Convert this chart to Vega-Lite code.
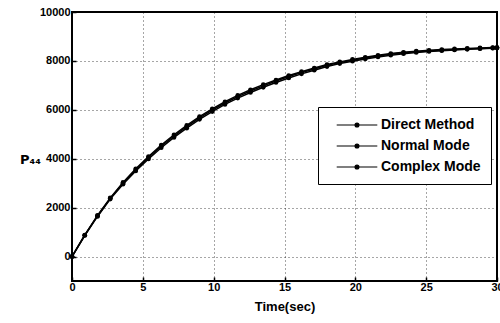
{
  "$schema": "https://vega.github.io/schema/vega-lite/v6.json",
  "autosize": {"type": "none"},
  "padding": {"left": 72, "top": 12, "right": 3, "bottom": 42},
  "width": 425,
  "height": 269,
  "background": "white",
  "config": {
    "view": {"stroke": "black", "strokeWidth": 2},
    "font": "Liberation Sans"
  },
  "datasets": {
    "curves": [
      {"t": 0, "v": 0, "s": "Direct Method"}, {"t": 0.9, "v": 870, "s": "Direct Method"}, {"t": 1.8, "v": 1660, "s": "Direct Method"}, {"t": 2.7, "v": 2380, "s": "Direct Method"}, {"t": 3.6, "v": 3000, "s": "Direct Method"}, {"t": 4.5, "v": 3550, "s": "Direct Method"}, {"t": 5.4, "v": 4050, "s": "Direct Method"}, {"t": 6.3, "v": 4510, "s": "Direct Method"}, {"t": 7.2, "v": 4930, "s": "Direct Method"}, {"t": 8.1, "v": 5310, "s": "Direct Method"}, {"t": 9.0, "v": 5670, "s": "Direct Method"}, {"t": 9.9, "v": 5990, "s": "Direct Method"}, {"t": 10.8, "v": 6280, "s": "Direct Method"}, {"t": 11.7, "v": 6540, "s": "Direct Method"}, {"t": 12.6, "v": 6770, "s": "Direct Method"}, {"t": 13.5, "v": 6980, "s": "Direct Method"}, {"t": 14.4, "v": 7180, "s": "Direct Method"}, {"t": 15.3, "v": 7360, "s": "Direct Method"}, {"t": 16.2, "v": 7520, "s": "Direct Method"}, {"t": 17.1, "v": 7670, "s": "Direct Method"}, {"t": 18.0, "v": 7820, "s": "Direct Method"}, {"t": 18.9, "v": 7930, "s": "Direct Method"}, {"t": 19.8, "v": 8030, "s": "Direct Method"}, {"t": 20.7, "v": 8120, "s": "Direct Method"}, {"t": 21.6, "v": 8200, "s": "Direct Method"}, {"t": 22.5, "v": 8270, "s": "Direct Method"}, {"t": 23.4, "v": 8330, "s": "Direct Method"}, {"t": 24.3, "v": 8375, "s": "Direct Method"}, {"t": 25.2, "v": 8410, "s": "Direct Method"}, {"t": 26.1, "v": 8440, "s": "Direct Method"}, {"t": 27.0, "v": 8465, "s": "Direct Method"}, {"t": 27.9, "v": 8490, "s": "Direct Method"}, {"t": 28.8, "v": 8510, "s": "Direct Method"}, {"t": 29.7, "v": 8530, "s": "Direct Method"}, {"t": 30, "v": 8535, "s": "Direct Method"},
      {"t": 0, "v": 0, "s": "Normal Mode"}, {"t": 0.9, "v": 880, "s": "Normal Mode"}, {"t": 1.8, "v": 1680, "s": "Normal Mode"}, {"t": 2.7, "v": 2400, "s": "Normal Mode"}, {"t": 3.6, "v": 3030, "s": "Normal Mode"}, {"t": 4.5, "v": 3590, "s": "Normal Mode"}, {"t": 5.4, "v": 4090, "s": "Normal Mode"}, {"t": 6.3, "v": 4560, "s": "Normal Mode"}, {"t": 7.2, "v": 4980, "s": "Normal Mode"}, {"t": 8.1, "v": 5360, "s": "Normal Mode"}, {"t": 9.0, "v": 5720, "s": "Normal Mode"}, {"t": 9.9, "v": 6040, "s": "Normal Mode"}, {"t": 10.8, "v": 6330, "s": "Normal Mode"}, {"t": 11.7, "v": 6590, "s": "Normal Mode"}, {"t": 12.6, "v": 6820, "s": "Normal Mode"}, {"t": 13.5, "v": 7030, "s": "Normal Mode"}, {"t": 14.4, "v": 7220, "s": "Normal Mode"}, {"t": 15.3, "v": 7400, "s": "Normal Mode"}, {"t": 16.2, "v": 7560, "s": "Normal Mode"}, {"t": 17.1, "v": 7710, "s": "Normal Mode"}, {"t": 18.0, "v": 7850, "s": "Normal Mode"}, {"t": 18.9, "v": 7960, "s": "Normal Mode"}, {"t": 19.8, "v": 8060, "s": "Normal Mode"}, {"t": 20.7, "v": 8150, "s": "Normal Mode"}, {"t": 21.6, "v": 8230, "s": "Normal Mode"}, {"t": 22.5, "v": 8300, "s": "Normal Mode"}, {"t": 23.4, "v": 8355, "s": "Normal Mode"}, {"t": 24.3, "v": 8400, "s": "Normal Mode"}, {"t": 25.2, "v": 8435, "s": "Normal Mode"}, {"t": 26.1, "v": 8465, "s": "Normal Mode"}, {"t": 27.0, "v": 8490, "s": "Normal Mode"}, {"t": 27.9, "v": 8510, "s": "Normal Mode"}, {"t": 28.8, "v": 8530, "s": "Normal Mode"}, {"t": 29.7, "v": 8545, "s": "Normal Mode"}, {"t": 30, "v": 8550, "s": "Normal Mode"},
      {"t": 0, "v": 0, "s": "Complex Mode"}, {"t": 0.9, "v": 860, "s": "Complex Mode"}, {"t": 1.8, "v": 1640, "s": "Complex Mode"}, {"t": 2.7, "v": 2350, "s": "Complex Mode"}, {"t": 3.6, "v": 2960, "s": "Complex Mode"}, {"t": 4.5, "v": 3500, "s": "Complex Mode"}, {"t": 5.4, "v": 3990, "s": "Complex Mode"}, {"t": 6.3, "v": 4450, "s": "Complex Mode"}, {"t": 7.2, "v": 4870, "s": "Complex Mode"}, {"t": 8.1, "v": 5250, "s": "Complex Mode"}, {"t": 9.0, "v": 5610, "s": "Complex Mode"}, {"t": 9.9, "v": 5930, "s": "Complex Mode"}, {"t": 10.8, "v": 6220, "s": "Complex Mode"}, {"t": 11.7, "v": 6480, "s": "Complex Mode"}, {"t": 12.6, "v": 6710, "s": "Complex Mode"}, {"t": 13.5, "v": 6920, "s": "Complex Mode"}, {"t": 14.4, "v": 7120, "s": "Complex Mode"}, {"t": 15.3, "v": 7300, "s": "Complex Mode"}, {"t": 16.2, "v": 7470, "s": "Complex Mode"}, {"t": 17.1, "v": 7620, "s": "Complex Mode"}, {"t": 18.0, "v": 7770, "s": "Complex Mode"}, {"t": 18.9, "v": 7890, "s": "Complex Mode"}, {"t": 19.8, "v": 7990, "s": "Complex Mode"}, {"t": 20.7, "v": 8080, "s": "Complex Mode"}, {"t": 21.6, "v": 8160, "s": "Complex Mode"}, {"t": 22.5, "v": 8235, "s": "Complex Mode"}, {"t": 23.4, "v": 8295, "s": "Complex Mode"}, {"t": 24.3, "v": 8345, "s": "Complex Mode"}, {"t": 25.2, "v": 8385, "s": "Complex Mode"}, {"t": 26.1, "v": 8420, "s": "Complex Mode"}, {"t": 27.0, "v": 8450, "s": "Complex Mode"}, {"t": 27.9, "v": 8475, "s": "Complex Mode"}, {"t": 28.8, "v": 8500, "s": "Complex Mode"}, {"t": 29.7, "v": 8520, "s": "Complex Mode"}, {"t": 30, "v": 8525, "s": "Complex Mode"}
    ]
  },
  "data": {"name": "curves"},
  "encoding": {
    "x": {
      "field": "t", "type": "quantitative",
      "scale": {"domain": [0, 30], "nice": false, "zero": false},
      "axis": {
        "title": "Time(sec)", "titleFontSize": 13, "titleFontWeight": "bold", "titleColor": "black", "titlePadding": 8,
        "values": [0, 5, 10, 15, 20, 25, 30], "format": "d",
        "labelFontSize": 11, "labelFontWeight": "bold", "labelColor": "black", "labelPadding": 4,
        "labelFlush": false,
        "grid": true, "gridColor": "black", "gridDash": [1, 3], "gridOpacity": 0.7,
        "domain": false, "ticks": true, "tickSize": -4, "tickColor": "black", "tickWidth": 1.5
      }
    },
    "y": {
      "field": "v", "type": "quantitative",
      "scale": {"domain": [-1000, 10000], "nice": false, "zero": false},
      "axis": {
        "title": "P₄₄", "titleAngle": 0, "titleX": -42, "titleY": 147, "titleAlign": "center", "titleBaseline": "middle",
        "titleFont": "DejaVu Sans", "titleFontSize": 13, "titleFontWeight": "bold", "titleColor": "black",
        "values": [0, 2000, 4000, 6000, 8000, 10000], "format": "d",
        "labelFontSize": 11, "labelFontWeight": "bold", "labelColor": "black", "labelPadding": 6,
        "labelFlush": false,
        "grid": true, "gridColor": "black", "gridDash": [1, 3], "gridOpacity": 0.7,
        "domain": false, "ticks": true, "tickSize": -4, "tickColor": "black", "tickWidth": 1.5
      }
    },
    "color": {
      "field": "s", "type": "nominal",
      "scale": {"domain": ["Direct Method", "Normal Mode", "Complex Mode"], "range": ["black", "black", "black"]}
    }
  },
  "layer": [
    {
      "mark": {"type": "line", "strokeWidth": 1.5},
      "encoding": {
        "color": {
          "field": "s", "type": "nominal",
          "scale": {"domain": ["Direct Method", "Normal Mode", "Complex Mode"], "range": ["black", "black", "black"]},
          "legend": {
            "title": null, "orient": "none", "legendX": 246, "legendY": 95,
            "fillColor": "white", "strokeColor": "black", "padding": 10,
            "labelFontSize": 14, "labelFontWeight": "bold", "labelColor": "black", "labelOffset": 16,
            "symbolType": "M-2.9,0H2.9M-0.28,0a0.28,0.28 0 1,0 0.56,0a0.28,0.28 0 1,0 -0.56,0Z",
            "symbolSize": 196, "symbolStrokeWidth": 1.2, "symbolFillColor": "black", "symbolStrokeColor": "black",
            "symbolOffset": 21, "rowPadding": 6,
            "labelExpr": "datum.label + '  '"
          }
        }
      }
    },
    {
      "mark": {"type": "point", "filled": true, "size": 22, "opacity": 1},
      "encoding": {
        "color": {"field": "s", "type": "nominal", "legend": null,
          "scale": {"domain": ["Direct Method", "Normal Mode", "Complex Mode"], "range": ["black", "black", "black"]}}
      }
    }
  ]
}
